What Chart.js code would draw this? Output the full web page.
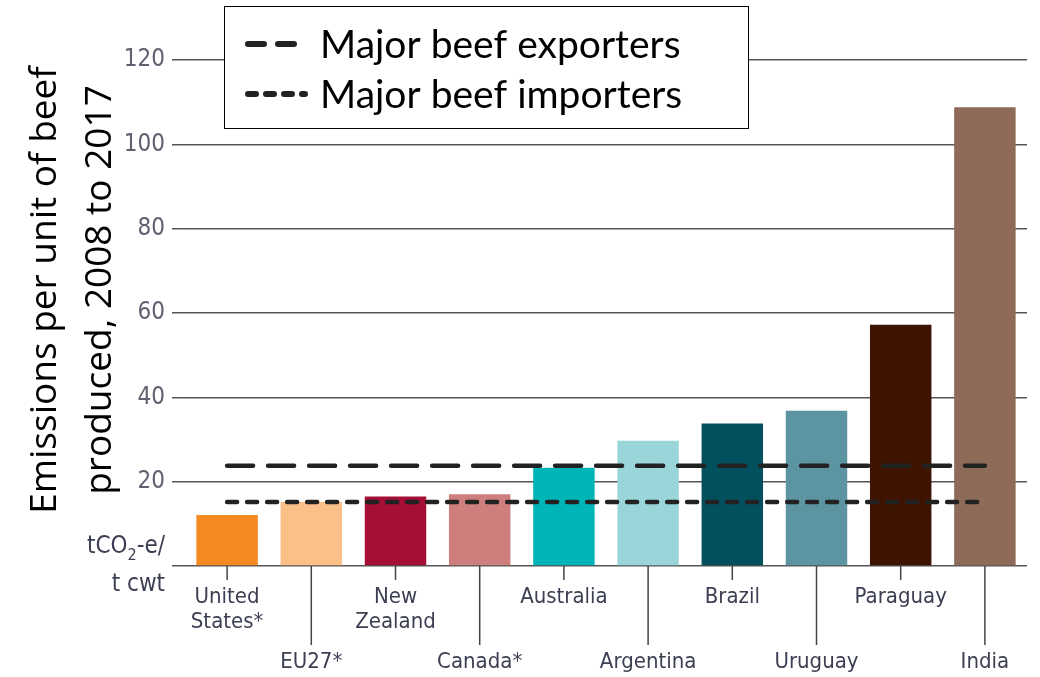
<!DOCTYPE html>
<html>
<head>
<meta charset="utf-8">
<script src="https://cdn.jsdelivr.net/npm/chart.js@4/dist/chart.umd.min.js"></script>
<style>
    body { margin: 0; background: #ffffff; }
    #wrap { position: relative; width: 1040px; height: 677px; }
</style>
</head>
<body>
<div id="wrap"><canvas id="beef-chart"></canvas></div>
<script>
    // categories and values
    const countries = [['United', 'States*'], ['EU27*'], ['New', 'Zealand'], ['Canada*'], ['Australia'],
        ['Argentina'], ['Brazil'], ['Uruguay'], ['Paraguay'], ['India']];
    const emissions = [12.1, 15.2, 16.5, 17.0, 23.3, 29.7, 33.8, 36.8, 57.2, 108.8];
    const exporters = [23.8, 23.8, 23.8, 23.8, 23.8, 23.8, 23.8, 23.8, 23.8, 23.8];
    const importers = [15.2, 15.2, 15.2, 15.2, 15.2, 15.2, 15.2, 15.2, 15.2, 15.2];
    const yTicks = [0, 20, 40, 60, 80, 100, 120];
    const barColors = [
        '#F58A22', '#FBC088', '#A50E35', '#CD7E7D', '#00B5B8',
        '#9AD6D9', '#02505E', '#5C95A1', '#3E1300', '#8E6B59'
    ];

    const narrow = '"Liberation Sans Narrow", "DejaVu Sans Condensed", sans-serif';
    const labelColor = '#3c3f52';

    // staggered category labels with their tick lines
    const staggeredLabels = {
        id: 'staggeredLabels',
        afterDraw(chart) {
            const ctx = chart.ctx;
            const x = chart.scales.x;
            const base = chart.scales.y.getPixelForValue(0);
            ctx.save();
            ctx.strokeStyle = '#444444';
            ctx.lineWidth = 1.5;
            ctx.fillStyle = labelColor;
            ctx.font = '22px ' + narrow;
            ctx.textAlign = 'center';
            ctx.textBaseline = 'middle';
            countries.forEach((lines, i) => {
                const px = x.getPixelForValue(i);
                const lower = i % 2 === 1;
                ctx.beginPath();
                ctx.moveTo(px, base);
                ctx.lineTo(px, base + (lower ? 79 : 14));
                ctx.stroke();
                const y0 = lower ? base + 96 : base + 31;
                lines.forEach((t, k) => ctx.fillText(t, px, y0 + k * 25));
            });

            // unit label
            ctx.textAlign = 'right';
            ctx.font = '24px ' + narrow;
            const ux = 165;
            const w2 = ctx.measureText('-e/').width;
            ctx.fillText('-e/', ux, base - 19);
            ctx.font = '16px ' + narrow;
            const wSub = ctx.measureText('2').width;
            ctx.fillText('2', ux - w2, base - 10);
            ctx.font = '24px ' + narrow;
            ctx.fillText('tCO', ux - w2 - wSub, base - 19);
            ctx.fillText('t cwt', ux, base + 19);

            // y axis title
            ctx.fillStyle = '#000000';
            ctx.font = '37px "Open Sans", sans-serif';
            ctx.textAlign = 'center';
            ctx.translate(0, 290);
            ctx.rotate(-Math.PI / 2);
            ctx.fillText('Emissions per unit of beef', 0, 45);
            ctx.fillText('produced, 2008 to 2017', 0, 100);
            ctx.restore();
        }
    };

    // boxed legend over the top of the plot
    const boxLegend = {
        id: 'boxLegend',
        afterDraw(chart) {
            const ctx = chart.ctx;
            ctx.save();
            ctx.fillStyle = '#ffffff';
            ctx.fillRect(224, 6, 524, 122);
            ctx.strokeStyle = '#000000';
            ctx.lineWidth = 1;
            ctx.strokeRect(224.5, 6.5, 524, 122);
            const items = chart.data.datasets.filter(d => d.type === 'line');
            ctx.font = '39px Lato, sans-serif';
            ctx.textBaseline = 'middle';
            ctx.textAlign = 'left';
            items.forEach((d, i) => {
                const y = 44 + i * 50;
                ctx.strokeStyle = '#222222';
                ctx.lineWidth = 6;
                ctx.lineCap = 'round';
                ctx.setLineDash(d.legendDash);
                ctx.beginPath();
                ctx.moveTo(248, y);
                ctx.lineTo(305, y);
                ctx.stroke();
                ctx.setLineDash([]);
                ctx.fillStyle = '#000000';
                ctx.fillText(d.label, 320, y + 1);
            });
            ctx.restore();
        }
    };

    const chartConfig = {
        data: {
            labels: countries.map(c => c.join(' ')),
            datasets: [
                {
                    type: 'line',
                    label: 'Major beef exporters',
                    data: exporters,
                    borderColor: '#222222',
                    borderWidth: 4.5,
                    borderDash: [26, 15],
                    borderCapStyle: 'round',
                    legendDash: [16, 14],
                    pointRadius: 0,
                    order: 0
                },
                {
                    type: 'line',
                    label: 'Major beef importers',
                    data: importers,
                    borderColor: '#222222',
                    borderWidth: 4.5,
                    borderDash: [10, 10],
                    borderCapStyle: 'round',
                    legendDash: [8, 10],
                    pointRadius: 0,
                    order: 0
                },
                {
                    type: 'bar',
                    label: 'Emissions',
                    data: emissions,
                    backgroundColor: barColors,
                    barPercentage: 0.73,
                    categoryPercentage: 1,
                    order: 1
                }
            ]
        },
        options: {
            responsive: true,
            maintainAspectRatio: false,
            animation: false,
            layout: {padding: {top: 60, right: 13, left: 0, bottom: 0}},
            plugins: {
                legend: {display: false},
                tooltip: {enabled: false}
            },
            scales: {
                x: {
                    grid: {display: false},
                    border: {display: false},
                    ticks: {display: false},
                    afterFit(scale) { scale.height = 111; }
                },
                y: {
                    min: 0,
                    max: 120,
                    afterBuildTicks(scale) { scale.ticks = yTicks.map(v => ({value: v})); },
                    afterFit(scale) { scale.width = 185; },
                    border: {display: false},
                    grid: {
                        color: '#555555',
                        lineWidth: 1.5,
                        drawTicks: true,
                        tickLength: 13
                    },
                    ticks: {
                        padding: 7,
                        color: '#5f6070',
                        font: {size: 24, family: narrow},
                        callback: (v) => (v === 0 ? '' : v)
                    }
                }
            }
        },
        plugins: [staggeredLabels, boxLegend]
    };

    new Chart('beef-chart', chartConfig);
</script>
</body>
</html>
